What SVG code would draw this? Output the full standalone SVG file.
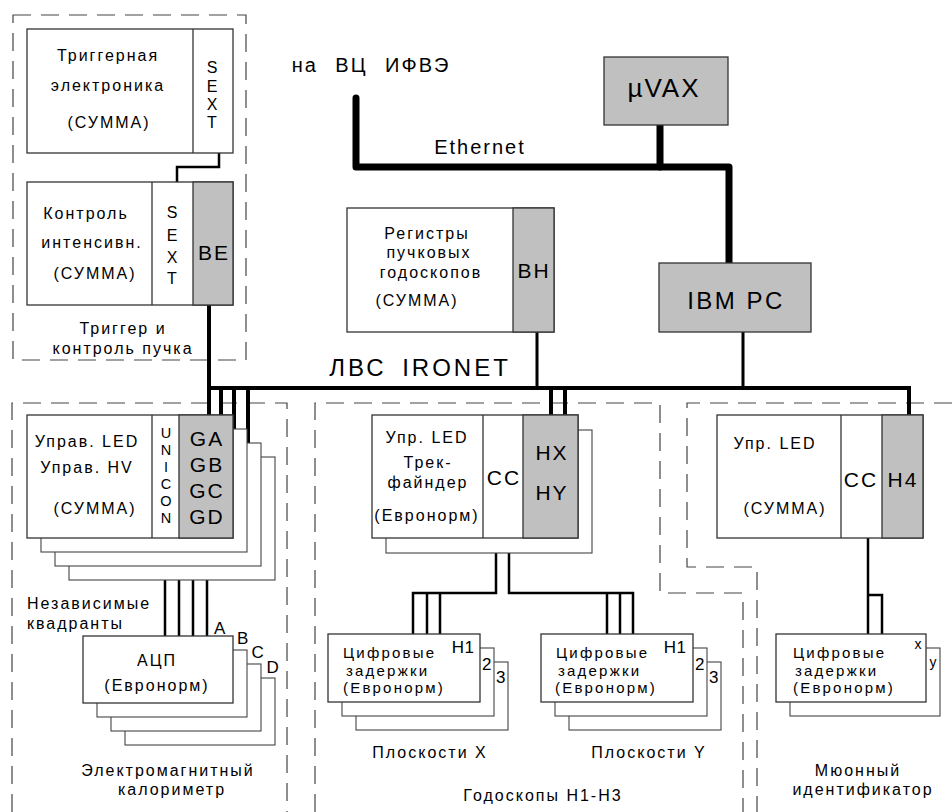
<svg xmlns="http://www.w3.org/2000/svg" width="952" height="812" viewBox="0 0 952 812">
<style>
.box{fill:#fff;stroke:#333;stroke-width:1.3}
.back{fill:#fff;stroke:#444;stroke-width:1.1}
.gray{fill:#c0c0c0;stroke:#333;stroke-width:1.3}
.div{stroke:#333;stroke-width:1.3;fill:none}
.dash{fill:none;stroke:#444;stroke-width:1.2;stroke-dasharray:18 10}
.w{fill:none;stroke:#000;stroke-linecap:butt}
.eth{fill:none;stroke:#000;stroke-width:7;stroke-linecap:round;stroke-linejoin:round}
.t{font-family:"Liberation Sans",Arial,sans-serif;font-size:16px;letter-spacing:2px;fill:#000}
.m{text-anchor:middle}
.b{font-size:21px;letter-spacing:2px}
.s{font-size:17px;letter-spacing:0.5px}
.d{font-size:15px;letter-spacing:2.2px}
.u{font-size:14.5px;letter-spacing:0}
</style>

<!-- dashed group frames -->
<g id="frames">
<rect class="dash" x="13" y="15" width="233" height="345"/>
<path class="dash" d="M12,812 V403 H287 V812"/>
<path class="dash" d="M315,812 V403 H660 V593 H743 V812"/>
<path class="dash" d="M952,403 H687 V567 H757 V812"/>
</g>

<!-- connectors -->
<g id="connectors">
<path class="eth" d="M356,98 V167 H729 V265"/>
<path class="eth" d="M660,125 V167"/>
<path class="w" stroke-width="4" d="M208,388 H909 V415"/>
<path class="w" stroke-width="4" d="M209,305 V415"/>
<path class="w" stroke-width="4" d="M221,388 V415 M234,388 V429 M248,388 V443"/>
<path class="w" stroke-width="3" d="M537,332 V388 M743,332 V388"/>
<path class="w" stroke-width="4" d="M551,388 V415 M565,388 V415"/>
<path class="w" stroke-width="2.5" d="M219,153 V167 H177 V182"/>
<path class="w" stroke-width="2.5" d="M165,538 V636 M179,552 V636 M193,566 V636 M207,580 V636"/>
<path class="w" stroke-width="2.5" d="M496,538 V593 H413 V635 M427,593 V635 M440,593 V635"/>
<path class="w" stroke-width="2.5" d="M509,553 V593 H633 V635 M607,593 V635 M620,593 V635"/>
<path class="w" stroke-width="2.5" d="M868,538 V635 M868,595 H882 V635"/>
</g>

<!-- top labels -->
<g id="labels">
<text class="t m" x="371" y="72" style="font-size:20px;word-spacing:10px">на ВЦ ИФВЭ</text>
<text class="t m" x="480" y="154" style="font-size:20px">Ethernet</text>
<text class="t m" x="420" y="376" style="font-size:24px;letter-spacing:3px;word-spacing:6px">ЛВС IRONET</text>
<text class="t m" x="123" y="334">Триггер и</text>
<text class="t m" x="123" y="354">контроль пучка</text>
<text class="t" x="27" y="609">Независимые</text>
<text class="t" x="27" y="629">квадранты</text>
<text class="t m" x="168" y="776">Электромагнитный</text>
<text class="t m" x="172" y="795">калориметр</text>
<text class="t m" x="430" y="758">Плоскости X</text>
<text class="t m" x="649" y="758">Плоскости Y</text>
<text class="t m" x="543" y="801">Годоскопы H1-H3</text>
<text class="t m" x="858" y="776">Мюонный</text>
<text class="t m" x="863" y="795">идентификатор</text>
</g>

<g id="uvax">
<rect class="gray" x="604" y="57" width="124" height="68"/>
<text class="t m" x="664" y="97" style="font-size:26px">µVAX</text>
</g>

<g id="ibmpc">
<rect class="gray" x="659" y="263" width="152" height="69"/>
<text class="t m" x="736" y="309" style="font-size:24px;letter-spacing:2.5px">IBM PC</text>
</g>

<g id="trigger">
<rect class="box" x="27" y="29" width="206" height="124"/>
<line class="div" x1="193" y1="29" x2="193" y2="153"/>
<text class="t m" x="108" y="61">Триггерная</text>
<text class="t m" x="108" y="91">электроника</text>
<text class="t m" x="109" y="128">(СУММА)</text>
<text class="t m" x="213" y="73">S</text>
<text class="t m" x="213" y="92">E</text>
<text class="t m" x="213" y="110">X</text>
<text class="t m" x="213" y="128">T</text>
</g>

<g id="intensity">
<rect class="box" x="27" y="182" width="206" height="123"/>
<rect class="gray" x="193" y="182" width="40" height="123"/>
<line class="div" x1="152" y1="182" x2="152" y2="305"/>
<text class="t m" x="86" y="219">Контроль</text>
<text class="t m" x="92" y="248">интенсивн.</text>
<text class="t m" x="95" y="279">(СУММА)</text>
<text class="t m" x="173" y="218">S</text>
<text class="t m" x="173" y="241">E</text>
<text class="t m" x="173" y="263">X</text>
<text class="t m" x="173" y="284">T</text>
<text class="t m b" x="214" y="260">BE</text>
</g>

<g id="registers">
<rect class="box" x="347" y="208" width="207" height="124"/>
<rect class="gray" x="513" y="208" width="41" height="124"/>
<text class="t m" x="427" y="239">Регистры</text>
<text class="t m" x="429" y="258">пучковых</text>
<text class="t m" x="431" y="278">годоскопов</text>
<text class="t m" x="417" y="306">(СУММА)</text>
<text class="t m b" x="534" y="278">BH</text>
</g>

<g id="calo-control">
<rect class="back" x="69" y="457" width="206" height="123"/>
<rect class="back" x="55" y="443" width="206" height="123"/>
<rect class="back" x="41" y="429" width="206" height="123"/>
<rect class="box" x="27" y="415" width="206" height="123"/>
<rect class="gray" x="179" y="415" width="54" height="123"/>
<line class="div" x1="152" y1="415" x2="152" y2="538"/>
<text class="t m" x="87" y="447">Управ. LED</text>
<text class="t m" x="87" y="473">Управ. HV</text>
<text class="t m" x="95" y="514">(СУММА)</text>
<text class="t m u" x="166" y="438">U</text>
<text class="t m u" x="166" y="455">N</text>
<text class="t m u" x="166" y="472">I</text>
<text class="t m u" x="166" y="489">C</text>
<text class="t m u" x="166" y="506">O</text>
<text class="t m u" x="166" y="523">N</text>
<text class="t m b" x="207" y="446">GA</text>
<text class="t m b" x="207" y="472">GB</text>
<text class="t m b" x="207" y="498">GC</text>
<text class="t m b" x="207" y="524">GD</text>
</g>

<g id="adc">
<rect class="back" x="125" y="678" width="150" height="67"/>
<rect class="back" x="111" y="664" width="150" height="67"/>
<rect class="back" x="97" y="650" width="150" height="67"/>
<rect class="box" x="83" y="636" width="150" height="67"/>
<text class="t m" x="157" y="666">АЦП</text>
<text class="t m" x="157" y="691">(Евронорм)</text>
<text class="t m s" x="220" y="634">A</text>
<text class="t m s" x="243" y="644">B</text>
<text class="t m s" x="258" y="658">C</text>
<text class="t m s" x="273" y="673">D</text>
</g>

<g id="hodo-control">
<rect class="back" x="386" y="430" width="206" height="123"/>
<rect class="box" x="372" y="415" width="206" height="123"/>
<rect class="gray" x="523" y="415" width="55" height="123"/>
<line class="div" x1="483" y1="415" x2="483" y2="538"/>
<text class="t m" x="427" y="443">Упр. LED</text>
<text class="t m" x="428" y="468">Трек-</text>
<text class="t m" x="428" y="488">файндер</text>
<text class="t m" x="427" y="521">(Евронорм)</text>
<text class="t m b" x="504" y="485">CC</text>
<text class="t m b" x="552" y="460">HX</text>
<text class="t m b" x="552" y="500">HY</text>
</g>

<g id="delays-x">
<rect class="back" x="356" y="662" width="152" height="68"/>
<rect class="back" x="342" y="648" width="152" height="68"/>
<rect class="box" x="328" y="634" width="152" height="68"/>
<text class="t d" x="343" y="658">Цифровые</text>
<text class="t d" x="346" y="675.5">задержки</text>
<text class="t d" x="343" y="693">(Евронорм)</text>
<text class="t m s" x="463" y="653">H1</text>
<text class="t m s" x="487" y="670">2</text>
<text class="t m s" x="501" y="683">3</text>
</g>

<g id="delays-y">
<rect class="back" x="569" y="662" width="152" height="68"/>
<rect class="back" x="555" y="648" width="152" height="68"/>
<rect class="box" x="541" y="634" width="152" height="68"/>
<text class="t d" x="556" y="658">Цифровые</text>
<text class="t d" x="558" y="675.5">задержки</text>
<text class="t d" x="555" y="693">(Евронорм)</text>
<text class="t m s" x="675" y="653">H1</text>
<text class="t m s" x="700" y="670">2</text>
<text class="t m s" x="714" y="683">3</text>
</g>

<g id="muon-control">
<rect class="box" x="717" y="415" width="206" height="123"/>
<rect class="gray" x="882" y="415" width="41" height="123"/>
<line class="div" x1="841" y1="415" x2="841" y2="538"/>
<text class="t m" x="775" y="449">Упр. LED</text>
<text class="t m" x="785" y="514">(СУММА)</text>
<text class="t m b" x="861" y="487">CC</text>
<text class="t m b" x="903" y="487">H4</text>
</g>

<g id="delays-muon">
<rect class="back" x="790" y="648" width="150" height="68"/>
<rect class="box" x="776" y="634" width="150" height="68"/>
<text class="t d" x="793" y="658">Цифровые</text>
<text class="t d" x="795" y="675.5">задержки</text>
<text class="t d" x="793" y="693">(Евронорм)</text>
<text class="t m" x="918" y="649" style="font-size:14px;letter-spacing:0">x</text>
<text class="t m" x="933" y="667" style="font-size:14px;letter-spacing:0">y</text>
</g>
</svg>
